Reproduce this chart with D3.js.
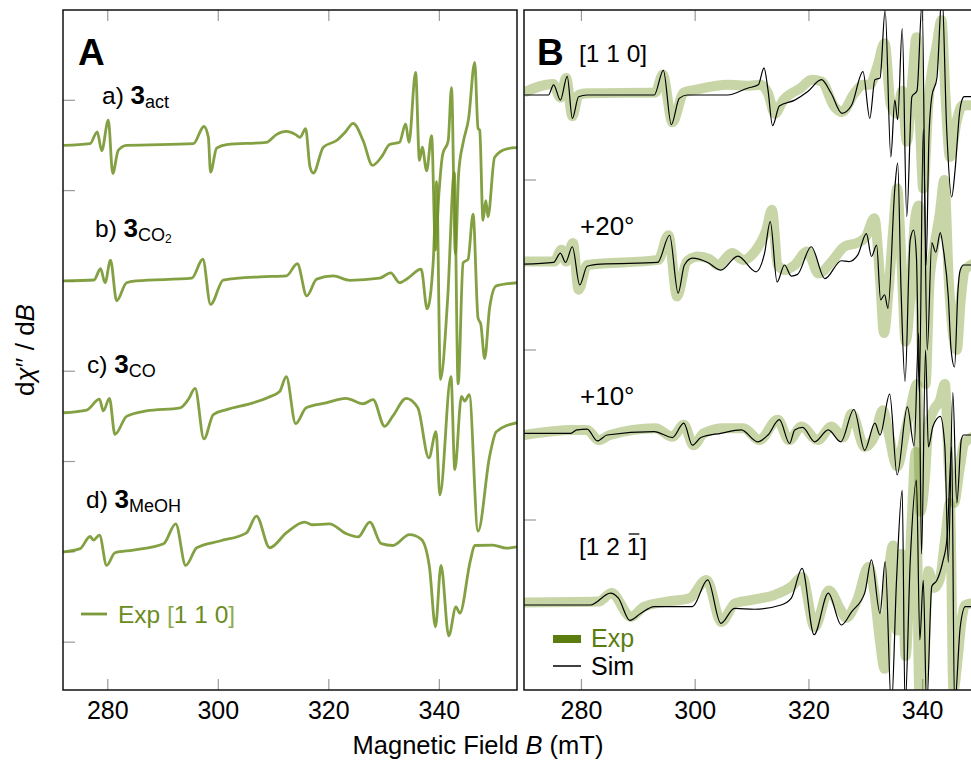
<!DOCTYPE html>
<html>
<head>
<meta charset="utf-8">
<script src="https://cdn.jsdelivr.net/npm/d3@7"></script>
<style>
  body { margin: 0; background: #fff; }
  text { font-family: "Liberation Sans", Arial, Helvetica, sans-serif; }
</style>
</head>
<body>
<svg id="chart" width="971" height="761"></svg>
<script>
// ---- data: [field (mT), dChi''/dB (arb. units)] ----
// panel A, experimental spectra along [1 1 0]
const specAct = [[272,0],[276.8,0.2],[278.1,1.5],[278.9,-0.6],[280.1,2.8],[280.9,-3.1],[281.9,-0.55],[283.4,0],[295.5,0.2],[297.4,2.1],[298.2,0.9],[298.6,-2.95],[299.7,-0.3],[301.5,0.1],[308.7,0.35],[310.5,1.2],[312.3,1.55],[314.0,1.2],[314.8,0.9],[315.8,1.85],[316.6,-2.4],[317.2,-3.05],[319.0,-0.2],[321.4,0.55],[323.0,1.5],[324.4,2.45],[326.2,0.55],[327.9,-2.2],[329.5,-1.3],[331.0,0.1],[332.8,0.35],[333.9,2.4],[334.5,0.35],[335.7,8.1],[336.4,-1.65],[336.9,-0.2],[337.7,-2.8],[338.6,1.1],[339.3,-11.6],[339.9,-5.5],[340.6,-1.0],[341.6,0.5],[342.2,6.4],[342.9,-12],[343.5,-3],[344.3,0.3],[345.3,3.0],[346.4,9.2],[347.0,1.9],[347.3,1.7],[347.9,-8.3],[348.4,-6.1],[348.8,-7.9],[350.0,-1.3],[352.2,-0.37],[354.05,-0.25]];
const specCO2 = [[272,0],[277.5,0.1],[278.7,1.35],[279.5,-0.2],[280.5,2.3],[281.6,-2.2],[283.4,-0.2],[285.2,0],[295.2,0.3],[297.2,2.4],[298.6,-2.6],[300.9,0.1],[307.5,0.45],[312.3,0.55],[314.3,1.9],[316.0,-1.65],[317.8,0.2],[320.8,0.55],[323.8,0.07],[329.2,0.3],[331.2,0.9],[332.8,-0.2],[334.3,0.3],[336.7,1.3],[337.8,-3.1],[338.9,2.2],[339.5,11],[340.2,-10.9],[341.5,-2],[342.7,12],[343.4,-11.4],[344.3,2.0],[345.2,2.4],[346.1,7.4],[347.0,-4.1],[347.5,-4.8],[348.2,-8.6],[349.1,-2.95],[350.3,-0.55],[354.05,-0.2]];
const specCO = [[272,0],[276.2,0.3],[278.5,1.5],[279.2,0.2],[280.3,1.6],[281.3,-2.4],[283.4,-0.4],[287.0,0.2],[293.1,0.55],[294.6,1.5],[295.8,2.7],[297.4,-2.9],[299.1,-0.2],[301.5,0.35],[306.3,1.1],[309.0,1.7],[311.1,2.35],[312.3,4.0],[314.0,-1.2],[315.9,0.55],[319.5,1.1],[323.1,1.6],[326.2,1.0],[328.0,1.45],[330.1,-1.5],[331.6,-0.35],[334.0,1.6],[336.1,0.55],[338.1,-5.0],[339.4,-2.1],[340.1,-9.1],[342.1,4.0],[342.8,-6.3],[344.0,1.8],[344.6,1.3],[345.4,2.0],[347.0,-13.1],[349.1,-4.8],[350.3,-2.1],[354.05,-1.1]];
const specMeOH = [[272,0],[275.0,0.35],[276.8,1.7],[277.4,1.3],[278.5,1.85],[279.8,-1.5],[281.3,-0.1],[284.6,0.2],[290.1,0.9],[292.3,3.1],[294.1,-1.5],[296.1,0.45],[300.3,1.2],[305.1,2.1],[306.9,3.95],[309.3,0.45],[312.3,2.1],[315.6,3.3],[317.1,3.0],[320.1,3.1],[323.2,2.0],[325.3,1.65],[327.4,3.3],[329.5,0.9],[331.6,0.7],[334.6,1.9],[336.7,1.4],[338.2,-1.65],[339.3,-8.3],[340.3,-1.5],[341.7,-9.3],[343.0,-6.1],[343.7,-6.8],[345.6,-1.0],[346.4,0.7],[349.7,0.75],[352.1,0.4],[354.05,0.55]];

const seriesA = [specAct, specCO2, specCO, specMeOH];
const offsetsA = [55, 40, 25.4, 10];

// panel B, experiment (Exp) and simulation (Sim) for four orientations
const exp110 = [[269.9,0.3],[275.0,1.3],[276.3,-0.3],[277.3,2.0],[278.4,-2.5],[279.5,0],[281,0.2],[293,0.3],[294.3,2.4],[296.0,-3.2],[298.0,0.3],[300,0.6],[305.7,1.2],[309.5,1.1],[311.5,1.2],[312.8,0.2],[314.0,-2.2],[315.5,-0.6],[318.5,0.8],[320.5,1.8],[322.2,1.6],[324.5,-1.4],[325.8,-2.0],[328.0,0.2],[329.5,1.2],[330.7,1.2],[332.0,3.3],[333.3,6.1],[334.4,-1.2],[335.5,-2.2],[336.4,0.5],[337.2,-5.5],[338.2,2],[338.9,6.8],[339.5,-3],[340.1,-11],[341.0,-1],[342.5,6],[343.3,8.8],[344.0,0],[344.8,-7.3],[346.0,-3],[347.0,-1.2],[349.5,-1.2]];
const sim110 = [[269.9,0],[274.2,0],[275.1,1.2],[276.3,-0.6],[277.5,2.2],[278.4,-2.75],[279.5,-0.2],[281.0,0],[292.8,0],[294.4,2.9],[295.8,-3.5],[297.2,-0.4],[298.6,0],[305.7,0],[309.2,0.8],[311.1,1.2],[312.1,3.2],[312.8,0.6],[313.6,-3.6],[314.8,-1.3],[317.5,-0.6],[319.8,0.4],[322.2,1.8],[323.9,0.2],[325.8,-2.15],[327.5,-1.2],[329.5,2.75],[330.7,-2.75],[331.6,1.8],[332.5,2.0],[333.4,10],[334.4,-7.3],[335.1,-0.6],[335.6,-2.9],[336.4,7.8],[337.2,-14.3],[338.1,-0.2],[339.0,0.5],[339.9,11],[340.6,-20],[341.1,-5],[341.6,-0.2],[342.5,2],[343.4,12],[344.2,-3.7],[345.1,-12],[345.7,-8.8],[346.5,-2],[346.9,-0.6],[347.3,-0.2],[349.5,-0.2]];
const exp20 = [[269.9,0.4],[275.2,0.4],[276.5,1.8],[277.3,0.4],[278.5,2.6],[279.5,-2.9],[281,0],[293.5,0.6],[295.3,3.5],[296.8,-3.7],[298.5,0.4],[300.5,1.0],[302.5,0.7],[304,0],[306.5,1.4],[308.5,0.6],[310.5,1.6],[312.5,4.1],[313.5,6.5],[314.5,0],[315.8,-0.6],[317.5,0],[319.7,1.6],[321.7,-1.0],[324,0.4],[326.3,2.2],[328.5,2.6],[330,3.3],[331.5,5.5],[332.5,-1.6],[333.2,-8],[334.0,-3],[334.8,4],[335.5,9],[336.3,0],[337.0,-9],[337.8,-4],[338.6,5],[339.3,7],[339.8,-10],[340.5,-14],[341.2,-2],[342.0,2],[343.0,6],[343.8,10],[344.6,-2],[345.3,-8],[346.0,-10],[346.7,-4],[347.5,-0.5],[349.5,0.3]];
const sim20 = [[269.9,0.1],[275.1,0.3],[276.3,1.4],[277.2,0.3],[278.4,2.15],[279.7,-2.35],[281.0,-0.15],[283.4,0.1],[293.4,0.3],[295.5,3.5],[297.0,-3.3],[298.1,0],[299.5,0.8],[302.2,0.3],[304.5,-0.6],[307.5,1.05],[310.7,-0.8],[312.2,1.4],[313.2,5.1],[314.4,-2.0],[315.7,0],[316.9,-1.3],[318.0,-1.1],[320.4,2.15],[322.8,-1.6],[325.7,0.5],[327.0,0.4],[328.6,1.2],[330.1,3.7],[331.0,1.0],[331.9,2.35],[332.6,-4.1],[333.3,-3.5],[333.9,-5.1],[335.1,9],[335.6,12],[336.2,-3],[336.9,-13.7],[337.8,2.9],[338.4,4.1],[338.9,1],[339.4,-15],[340.1,16],[340.8,-10],[341.6,2.6],[342.3,1.5],[343.1,3.8],[343.6,2],[344.5,-3.7],[345.0,-10],[345.6,-12],[346.2,-3],[346.6,-0.6],[347.2,0],[349.5,0]];
const exp10 = [[269.9,0],[278.5,0.6],[281,0.6],[283,-0.6],[285,0],[293,0.8],[296,-0.2],[298,1.2],[299.7,-1.2],[301.5,0.2],[305,0.8],[308.5,0.8],[311.3,-0.6],[314.5,1.8],[316.5,-0.6],[318.7,1.0],[321.5,-0.6],[324,1.0],[326,-0.3],[327.5,2.5],[329.8,-1.4],[331.5,-0.2],[333.0,2.9],[334.0,0.2],[335.5,-3.7],[337.0,0.6],[338.0,3.6],[339.0,6],[339.6,-9],[340.4,-5],[341.0,1],[342.0,3],[343.0,4],[343.9,6],[344.6,-4],[345.5,-8],[346.5,-4],[347.3,-1],[349.5,0]];
const sim10 = [[269.9,0.2],[278.1,0.2],[279.2,0.6],[281.0,0.7],[282.8,-0.7],[284.5,0],[292.8,0.4],[296.0,-0.3],[298.0,1.4],[299.5,-1.2],[301.0,-0.3],[304.5,0.2],[308.1,0.6],[311.0,-0.8],[312.8,0],[314.8,1.8],[316.6,-1.0],[317.5,0.6],[318.9,0.9],[321.0,-0.8],[323.4,0.6],[325.6,-0.8],[327.9,3.0],[329.8,-1.8],[331.6,1.4],[332.5,0],[334.2,4.8],[335.5,-4.7],[337.3,3.3],[338.5,-1.3],[339.3,12],[339.8,-14],[340.5,10],[341.0,-1.4],[341.8,1],[343.1,2.2],[343.9,-1.4],[344.5,-15],[345.3,5],[346.0,-8],[346.8,-0.5],[347.2,0],[349.5,0]];
const exp121 = [[269.9,0.3],[283,0.4],[285.3,1.4],[288.7,-1.4],[291,-0.2],[295,0.4],[299,0.8],[302,2.95],[304.6,-2.0],[307,0.2],[310,0.6],[314,1.2],[317,2.2],[318.8,3.3],[321,-2.6],[323.5,1.7],[325.6,-0.6],[326.5,-1.5],[328.5,0.6],[330.5,4.5],[331.5,1.5],[332.5,-4.3],[333.3,-7.5],[334.0,3],[334.8,7],[335.5,-3],[336.3,6],[337.0,-6],[338.0,9],[338.8,18],[339.4,-10],[340.2,-8],[341.0,4],[342.0,2],[343.0,3],[344.0,8],[344.8,12],[345.4,-10],[346.2,-6],[346.8,-2],[347.5,0],[349.5,0.3]];
const sim121 = [[269.9,0],[281.6,0],[285.1,1.4],[286.5,0.8],[288.5,-1.8],[290.4,-1.0],[292.8,-0.2],[299.5,-0.2],[302.2,2.95],[304.5,-2.15],[306.9,-0.4],[310.4,-0.5],[315.1,0],[316.9,0.8],[318.8,4.3],[320.9,-3.5],[323.4,1.4],[325.7,-2.35],[327.5,-0.8],[329.8,1.4],[331.0,5.3],[332.5,-1.0],[333.4,5.1],[334.5,-12],[335.4,2.9],[336.4,13.5],[336.9,-12],[337.8,5],[338.9,14.7],[339.5,-4.1],[340.1,2.9],[340.7,-12],[341.6,2.2],[342.5,2.9],[343.5,5],[344.3,8],[345.1,18.6],[345.6,-12],[346.6,-2.6],[347.5,-0.2],[349.5,-0.2]];

const expB = [exp110, exp20, exp10, exp121];
const simB = [sim110, sim20, sim10, sim121];
const offsetsB = [70, 50, 30, 10];

const fieldTicks = [280, 300, 320, 340];
const ampTicksA = [0, 10, 20, 30, 40, 50, 60];
const ampTicksB = [20, 40, 60];

// ---- layout ----
const svg = d3.select("#chart");
const plotTop = 10, plotBottom = 690;
const panelA = { left: 63, right: 517 };
const panelB = { left: 524, right: 977 };

const xA = d3.scaleLinear().domain([271.9, 354.05]).range([panelA.left, panelA.right]);
const xB = d3.scaleLinear().domain([269.9, 349.55]).range([panelB.left, panelB.right]);
const yA = d3.scaleLinear().domain([-5.3, 70]).range([plotBottom, plotTop]);
const yB = d3.scaleLinear().domain([0, 80]).range([plotBottom, plotTop]);

const greenA = "#6d8f22";
const tickGrey = "#9a9a9a";

const defs = svg.append("defs");
[["clipA", panelA], ["clipB", panelB]].forEach(([id, p]) => {
  defs.append("clipPath").attr("id", id).append("rect")
    .attr("x", p.left).attr("y", plotTop).attr("width", p.right - p.left).attr("height", plotBottom - plotTop);
});

function drawFrame(p, x, y, yTicks) {
  const g = svg.append("g");
  // inward ticks, top and bottom
  fieldTicks.forEach(t => {
    g.append("line").attr("x1", x(t)).attr("x2", x(t)).attr("y1", plotTop).attr("y2", plotTop + 11)
      .attr("stroke", tickGrey).attr("stroke-width", 1.2);
    g.append("line").attr("x1", x(t)).attr("x2", x(t)).attr("y1", plotBottom).attr("y2", plotBottom - 11)
      .attr("stroke", tickGrey).attr("stroke-width", 1.2);
    g.append("text").attr("x", x(t)).attr("y", 719).attr("text-anchor", "middle")
      .attr("font-size", 25).text(t);
  });
  yTicks.forEach(t => {
    g.append("line").attr("x1", p.left).attr("x2", p.left + 12).attr("y1", y(t)).attr("y2", y(t))
      .attr("stroke", tickGrey).attr("stroke-width", 1.2);
  });
  return g;
}

drawFrame(panelA, xA, yA, ampTicksA);
drawFrame(panelB, xB, yB, ampTicksB);

// ---- panel A traces ----
const gA = svg.append("g").attr("clip-path", "url(#clipA)");
seriesA.forEach((s, i) => {
  const line = d3.line().x(d => xA(d[0])).y(d => yA(offsetsA[i] + d[1])).curve(d3.curveMonotoneX);
  gA.append("path").datum(s).attr("d", line)
    .attr("fill", "none").attr("stroke", greenA).attr("stroke-opacity", 0.85)
    .attr("stroke-width", 2.8).attr("stroke-linejoin", "round");
});

// ---- panel B traces ----
const gB = svg.append("g").attr("clip-path", "url(#clipB)");
expB.forEach((s, i) => {
  const line = d3.line().x(d => xB(d[0])).y(d => yB(offsetsB[i] + d[1])).curve(d3.curveMonotoneX);
  gB.append("path").datum(s).attr("d", line)
    .attr("fill", "none").attr("stroke", "#7a9a2e").attr("stroke-opacity", 0.42)
    .attr("stroke-width", 10).attr("stroke-linejoin", "round");
});
simB.forEach((s, i) => {
  const line = d3.line().x(d => xB(d[0])).y(d => yB(offsetsB[i] + d[1])).curve(d3.curveMonotoneX);
  gB.append("path").datum(s).attr("d", line)
    .attr("fill", "none").attr("stroke", "#000").attr("stroke-width", 1.2);
});

// frames on top
[panelA, panelB].forEach(p => {
  svg.append("rect").attr("x", p.left).attr("y", plotTop).attr("width", p.right - p.left)
    .attr("height", plotBottom - plotTop).attr("fill", "none").attr("stroke", "#111").attr("stroke-width", 1.5);
});

// ---- labels ----
svg.append("text").attr("x", 78).attr("y", 65).attr("font-size", 37).attr("font-weight", "bold").text("A");
svg.append("text").attr("x", 537).attr("y", 65).attr("font-size", 37).attr("font-weight", "bold").text("B");

function sampleLabel(x, y, prefix, sub, sub2) {
  const t = svg.append("text").attr("x", x).attr("y", y).attr("font-size", 24.5);
  t.append("tspan").text(prefix + " ");
  t.append("tspan").attr("font-weight", "bold").attr("font-size", 26).text("3");
  t.append("tspan").attr("font-size", 18).attr("dy", 4).text(sub);
  if (sub2) t.append("tspan").attr("font-size", 12).attr("dy", 2).text(sub2);
}
sampleLabel(102, 104, "a)", "act");
sampleLabel(95, 237, "b)", "CO", "2");
sampleLabel(87, 373, "c)", "CO");
sampleLabel(86, 508, "d)", "MeOH");

// legend A
svg.append("line").attr("x1", 81).attr("x2", 107).attr("y1", 614).attr("y2", 614)
  .attr("stroke", greenA).attr("stroke-width", 2.8).attr("stroke-opacity", 0.9);
const legA = svg.append("text").attr("x", 118).attr("y", 623).attr("font-size", 24.5).attr("fill", "#6b8c1e");
legA.append("tspan").text("Exp ");
legA.append("tspan").attr("fill", "#8fab52").text("[");
legA.append("tspan").text("1 1 0");
legA.append("tspan").attr("fill", "#8fab52").text("]");

// orientation labels B
function orientLabel(x, y, txt) {
  return svg.append("text").attr("x", x).attr("y", y).attr("font-size", 26).text(txt);
}
orientLabel(579, 62, "[1 1 0]").attr("font-size", 24.5);
orientLabel(580, 235, "+20°");
orientLabel(580, 405, "+10°");
const l121 = orientLabel(579, 555, "[1 2 1]").attr("font-size", 24.5);
// bar over the last index
const ext = l121.node().getExtentOfChar(5);
svg.append("line").attr("x1", ext.x + 2).attr("x2", ext.x + ext.width - 1)
  .attr("y1", ext.y + 1).attr("y2", ext.y + 1).attr("stroke", "#000").attr("stroke-width", 1.3);

// legend B
svg.append("line").attr("x1", 553).attr("x2", 581).attr("y1", 639).attr("y2", 639)
  .attr("stroke", "#5b7d10").attr("stroke-width", 8);
svg.append("text").attr("x", 591).attr("y", 647).attr("font-size", 25).attr("fill", "#5b7d10").text("Exp");
svg.append("line").attr("x1", 553).attr("x2", 581).attr("y1", 666).attr("y2", 666)
  .attr("stroke", "#000").attr("stroke-width", 1.5);
svg.append("text").attr("x", 591).attr("y", 675).attr("font-size", 25).text("Sim");

// axis titles
const xt = svg.append("text").attr("x", 478).attr("y", 754).attr("text-anchor", "middle").attr("font-size", 25.5);
xt.append("tspan").text("Magnetic Field ");
xt.append("tspan").attr("font-style", "italic").text("B");
xt.append("tspan").text(" (mT)");

const yt = svg.append("text").attr("transform", "translate(34,350) rotate(-90)")
  .attr("text-anchor", "middle").attr("font-size", 26);
yt.append("tspan").text("d");
yt.append("tspan").attr("font-style", "italic").text("χ");
yt.append("tspan").text("′′ / d");
yt.append("tspan").attr("font-style", "italic").text("B");
</script>
</body>
</html>
